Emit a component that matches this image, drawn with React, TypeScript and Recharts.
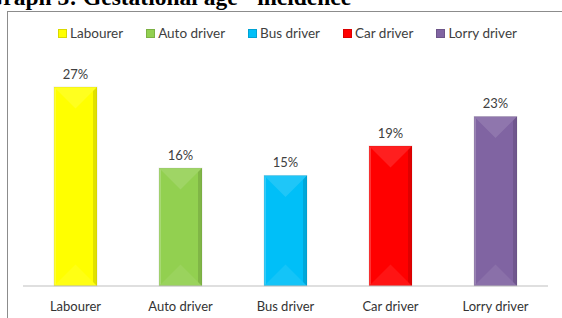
import React from 'react';
import { BarChart, Bar, XAxis, YAxis, Cell, LabelList, Legend } from 'recharts';

// occupations and their share (%)
const categories = ['Labourer', 'Auto driver', 'Bus driver', 'Car driver', 'Lorry driver'];
const values = [27, 16, 15, 19, 23];
const colors = ['#FFFF00', '#92D050', '#00BFF8', '#FF0000', '#8064A2'];

const data = categories.map((name, i) => ({ name, value: values[i] }));

const FONT = 'Lato, "Open Sans", sans-serif';

// bar with a simple bevel look (light top wedge, darker right edge)
const BevelBar = (props: any) => {
  const { x, y, width: w, height: h, fill } = props;
  if (!w || !h) return null;
  const b = Math.min(w / 2, h / 2);
  return (
    <g>
      <rect x={x} y={y} width={w} height={h} fill={fill} />
      <polygon points={`${x},${y} ${x + w},${y} ${x + w / 2},${y + b}`} fill="#ffffff" fillOpacity={0.12} />
      <polygon points={`${x},${y + h} ${x + w / 2},${y + h - b} ${x + w},${y + h}`} fill="#ffffff" fillOpacity={0.08} />
      <polygon points={`${x + w - 4},${y + 4} ${x + w},${y} ${x + w},${y + h} ${x + w - 4},${y + h - 4}`} fill="#000000" fillOpacity={0.12} />
      <polygon points={`${x},${y} ${x + 2},${y + 2} ${x + 2},${y + h - 2} ${x},${y + h}`} fill="#ffffff" fillOpacity={0.2} />
      <rect x={x} y={y} width={w} height={h} fill="none" stroke="#000" strokeOpacity={0.08} />
    </g>
  );
};

const LegendContent = () => (
  <div style={{ display: 'flex', justifyContent: 'center', gap: 23, fontFamily: FONT, fontSize: 13.5, color: '#404040', height: 16, alignItems: 'center' }}>
    {categories.map((c, i) => (
      <div key={c} style={{ display: 'flex', alignItems: 'center' }}>
        <span style={{ display: 'inline-block', width: 7, height: 7, background: colors[i], border: '1px solid rgba(0,0,0,0.15)', marginRight: 3 }} />
        <span>{c}</span>
      </div>
    ))}
  </div>
);

export default function App() {
  return (
    <div style={{ position: 'fixed', left: 0, top: 0, width: 562, height: 318, overflow: 'hidden', background: '#fff' }}>
      <div style={{ position: 'absolute', left: 0, top: 0 }}>
        <BarChart width={562} height={318} data={data} margin={{ top: 87, right: 14, bottom: 2, left: 23 }}>
          <Legend verticalAlign="middle" align="center" content={<LegendContent />} wrapperStyle={{ top: 25, left: 25, width: 525 }} />
          <XAxis
            dataKey="name"
            height={30}
            tickLine={false}
            axisLine={{ stroke: '#BFBFBF' }}
            tick={{ fill: '#333', fontSize: 13, fontFamily: FONT }}
            tickMargin={10}
            interval={0}
          />
          <YAxis hide domain={[0, 27]} />
          <Bar dataKey="value" barSize={43} isAnimationActive={false} shape={<BevelBar />}>
            {data.map((d, i) => (
              <Cell key={d.name} fill={colors[i]} />
            ))}
            <LabelList dataKey="value" position="top" offset={8} formatter={(v: any) => `${v}%`} style={{ fill: '#404040', fontSize: 13, fontFamily: FONT }} />
          </Bar>
        </BarChart>
      </div>
      <div style={{ position: 'absolute', left: 7, top: 11, width: 570, height: 330, border: '1px solid #8c8c8c', boxSizing: 'border-box', pointerEvents: 'none', zIndex: 2 }} />
      <div style={{ position: 'absolute', left: -15, top: -14, fontFamily: '"Liberation Serif", serif', fontWeight: 'bold', fontSize: 23.5, lineHeight: '23.5px', whiteSpace: 'nowrap', color: '#000', zIndex: 3 }}>
        Graph 3: Gestational age - incidence
      </div>
    </div>
  );
}
